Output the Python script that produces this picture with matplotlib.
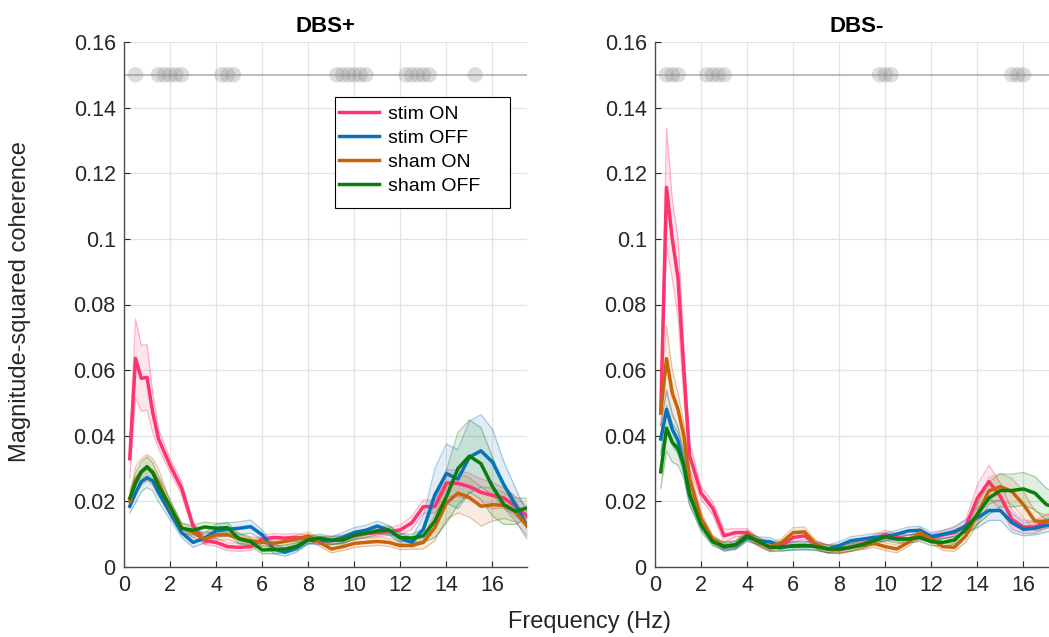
import numpy as np
import matplotlib
matplotlib.use('Agg')
import matplotlib.pyplot as plt
from matplotlib.patches import Rectangle

plt.rcParams['font.family'] = ['Liberation Sans', 'DejaVu Sans']

freqs = [0.25, 0.5, 0.75, 1.0, 1.25, 1.5, 2.0, 2.5, 3.0, 3.5, 4.0, 4.5, 5.0, 5.5, 6.0, 6.5,
         7.0, 7.5, 8.0, 8.5, 9.0, 9.5, 10.0, 10.5, 11.0, 11.5, 12.0, 12.5, 13.0, 13.5, 14.0,
         14.5, 15.0, 15.5, 16.0, 16.5, 17.0, 17.5]

conditions = ['stim ON', 'stim OFF', 'sham ON', 'sham OFF']
colors = ['#ff336e', '#0a72b8', '#c8650a', '#0b7d0b']

# DBS+ means
plus_stim_on = [0.033, 0.0636, 0.0575, 0.0578, 0.047, 0.039, 0.031, 0.024, 0.0125, 0.008, 0.0075, 0.0062,
                0.006, 0.0062, 0.0085, 0.009, 0.0088, 0.009, 0.0085, 0.0082, 0.008, 0.0085, 0.0095, 0.0102,
                0.0105, 0.0108, 0.0113, 0.0135, 0.0184, 0.0184, 0.0256, 0.0255, 0.0245, 0.0228, 0.0218,
                0.021, 0.0185, 0.0155]
plus_stim_off = [0.0185, 0.0225, 0.026, 0.0272, 0.0262, 0.0228, 0.0165, 0.0105, 0.0075, 0.0088, 0.011,
                 0.0115, 0.0118, 0.0123, 0.0098, 0.0055, 0.0045, 0.0058, 0.0082, 0.008, 0.008, 0.009,
                 0.0105, 0.0112, 0.0125, 0.0112, 0.0088, 0.0075, 0.0115, 0.022, 0.0285, 0.0268, 0.0335,
                 0.0354, 0.032, 0.025, 0.019, 0.0125]
plus_sham_on = [0.02, 0.0265, 0.029, 0.0303, 0.029, 0.0258, 0.018, 0.012, 0.0105, 0.0085, 0.0098, 0.0098,
                0.0088, 0.008, 0.0075, 0.0072, 0.0078, 0.0085, 0.0095, 0.0075, 0.0055, 0.0062, 0.0072,
                0.0075, 0.0078, 0.0075, 0.0065, 0.0066, 0.0075, 0.012, 0.0195, 0.0225, 0.0212, 0.0185,
                0.019, 0.0188, 0.0168, 0.0125]
plus_sham_off = [0.021, 0.0255, 0.029, 0.0306, 0.0287, 0.0247, 0.0185, 0.0118, 0.0112, 0.0122, 0.0118,
                 0.012, 0.0085, 0.0077, 0.0052, 0.0053, 0.0055, 0.0063, 0.0083, 0.0088, 0.0082, 0.0082,
                 0.0097, 0.0103, 0.011, 0.0113, 0.009, 0.0088, 0.0095, 0.014, 0.0214, 0.03, 0.0338,
                 0.0315, 0.0245, 0.019, 0.017, 0.018]

# DBS+ error half-widths
plus_stim_on_err = [0.006, 0.012, 0.01, 0.01, 0.006, 0.003, 0.002, 0.002, 0.0012, 0.0012, 0.0012, 0.0012,
                    0.0012, 0.0012, 0.0012, 0.0012, 0.0012, 0.0012, 0.0012, 0.0012, 0.0012, 0.0012, 0.0012,
                    0.0012, 0.0012, 0.0012, 0.0015, 0.002, 0.002, 0.002, 0.004, 0.004, 0.004, 0.004, 0.004,
                    0.003, 0.003, 0.003]
plus_stim_off_err = [0.002, 0.003, 0.003, 0.003, 0.003, 0.003, 0.002, 0.0015, 0.0015, 0.0015, 0.002, 0.002,
                     0.002, 0.002, 0.0015, 0.0015, 0.0012, 0.0012, 0.0012, 0.0012, 0.0012, 0.0015, 0.0015,
                     0.0015, 0.0015, 0.0015, 0.0015, 0.0015, 0.004, 0.008, 0.009, 0.009, 0.011, 0.011, 0.01,
                     0.007, 0.005, 0.004]
plus_sham_on_err = [0.002, 0.004, 0.004, 0.004, 0.004, 0.004, 0.002, 0.0015, 0.0015, 0.0015, 0.0015, 0.0015,
                    0.0015, 0.0012, 0.0012, 0.0012, 0.0012, 0.0012, 0.0012, 0.0012, 0.0012, 0.0012, 0.0012,
                    0.0012, 0.0012, 0.0012, 0.0012, 0.0012, 0.002, 0.004, 0.005, 0.006, 0.006, 0.006, 0.005,
                    0.004, 0.003, 0.003]
plus_sham_off_err = [0.002, 0.003, 0.003, 0.003, 0.003, 0.003, 0.002, 0.0015, 0.0015, 0.0015, 0.0015, 0.0015,
                     0.0015, 0.0012, 0.0012, 0.0012, 0.0012, 0.0012, 0.0012, 0.0012, 0.0012, 0.0012, 0.0012,
                     0.0012, 0.0012, 0.0012, 0.0012, 0.0012, 0.002, 0.005, 0.008, 0.011, 0.011, 0.011, 0.009,
                     0.006, 0.004, 0.003]

# DBS- means
minus_stim_on = [0.047, 0.1157, 0.1, 0.088, 0.06, 0.034, 0.0225, 0.018, 0.0095, 0.0105, 0.0105, 0.0075,
                 0.0058, 0.0065, 0.009, 0.0095, 0.0068, 0.0055, 0.0052, 0.006, 0.007, 0.0085, 0.0098, 0.009,
                 0.0085, 0.0095, 0.0088, 0.0098, 0.0105, 0.0125, 0.021, 0.026, 0.0215, 0.0145, 0.0122,
                 0.0122, 0.014, 0.0145]
minus_stim_off = [0.039, 0.048, 0.042, 0.0385, 0.031, 0.022, 0.0135, 0.0082, 0.006, 0.0065, 0.009, 0.008,
                  0.0077, 0.0062, 0.0063, 0.0064, 0.0064, 0.0055, 0.0065, 0.008, 0.0085, 0.009, 0.0092, 0.01,
                  0.011, 0.0112, 0.0093, 0.01, 0.0108, 0.0125, 0.015, 0.0172, 0.0172, 0.0135, 0.0115,
                  0.0118, 0.0127, 0.013]
minus_sham_on = [0.047, 0.0635, 0.053, 0.048, 0.04, 0.027, 0.0148, 0.0085, 0.0063, 0.0068, 0.0098, 0.0075,
                 0.0062, 0.0075, 0.0105, 0.0107, 0.0067, 0.0055, 0.0055, 0.006, 0.0065, 0.0072, 0.0062,
                 0.0055, 0.0075, 0.0105, 0.0085, 0.0062, 0.006, 0.0095, 0.016, 0.0232, 0.0245, 0.023, 0.019,
                 0.014, 0.0138, 0.0145]
minus_sham_off = [0.029, 0.0423, 0.038, 0.036, 0.031, 0.022, 0.0128, 0.0077, 0.0063, 0.0068, 0.0095, 0.0078,
                  0.006, 0.006, 0.0065, 0.0066, 0.0062, 0.0055, 0.0055, 0.006, 0.0068, 0.008, 0.0092, 0.0085,
                  0.0085, 0.009, 0.0077, 0.0075, 0.0082, 0.0115, 0.016, 0.021, 0.0233, 0.0233, 0.0238,
                  0.0225, 0.019, 0.018]

# DBS- error half-widths
minus_stim_on_err = [0.004, 0.018, 0.012, 0.012, 0.008, 0.004, 0.002, 0.002, 0.002, 0.0012, 0.0012, 0.0012,
                     0.0012, 0.0012, 0.0012, 0.0012, 0.0012, 0.0012, 0.0012, 0.0012, 0.0012, 0.0012, 0.0015,
                     0.0012, 0.0012, 0.0012, 0.0012, 0.0012, 0.0015, 0.002, 0.004, 0.005, 0.004, 0.003, 0.002,
                     0.002, 0.002, 0.002]
minus_stim_off_err = [0.004, 0.006, 0.005, 0.004, 0.003, 0.003, 0.002, 0.0012, 0.0012, 0.0012, 0.0012, 0.0012,
                      0.0012, 0.0012, 0.0012, 0.0012, 0.0012, 0.0012, 0.0012, 0.0012, 0.0012, 0.0012, 0.0012,
                      0.0012, 0.0012, 0.0012, 0.0012, 0.0012, 0.0015, 0.002, 0.003, 0.003, 0.003, 0.003,
                      0.002, 0.002, 0.002, 0.002]
minus_sham_on_err = [0.004, 0.01, 0.007, 0.005, 0.004, 0.003, 0.002, 0.0012, 0.0012, 0.0012, 0.0015, 0.0012,
                     0.0012, 0.0012, 0.0015, 0.0015, 0.0012, 0.0012, 0.0012, 0.0012, 0.0012, 0.0012, 0.0012,
                     0.0012, 0.0012, 0.0015, 0.0012, 0.0012, 0.0012, 0.002, 0.003, 0.004, 0.004, 0.004,
                     0.004, 0.003, 0.002, 0.002]
minus_sham_off_err = [0.005, 0.007, 0.006, 0.005, 0.004, 0.003, 0.002, 0.0012, 0.0012, 0.0012, 0.0012, 0.0012,
                      0.0012, 0.0012, 0.0012, 0.0012, 0.0012, 0.0012, 0.0012, 0.0012, 0.0012, 0.0012, 0.0012,
                      0.0012, 0.0012, 0.0012, 0.0012, 0.0012, 0.0012, 0.002, 0.003, 0.005, 0.005, 0.005,
                      0.005, 0.005, 0.005, 0.004]

# significant frequencies (gray dots at top)
plus_sig = [0.5, 1.5, 1.75, 2.0, 2.25, 2.5, 4.25, 4.5, 4.75, 9.25, 9.5, 9.75, 10.0, 10.25, 10.5,
            12.25, 12.5, 12.75, 13.0, 13.25, 15.25]
minus_sig = [0.5, 0.75, 1.0, 2.25, 2.5, 2.75, 3.0, 9.75, 10.0, 10.25, 15.5, 15.75, 16.0]
sig_level = 0.15

panels = [
    ('DBS+', [plus_stim_on, plus_stim_off, plus_sham_on, plus_sham_off],
     [plus_stim_on_err, plus_stim_off_err, plus_sham_on_err, plus_sham_off_err], plus_sig),
    ('DBS-', [minus_stim_on, minus_stim_off, minus_sham_on, minus_sham_off],
     [minus_stim_on_err, minus_stim_off_err, minus_sham_on_err, minus_sham_off_err], minus_sig),
]

fig = plt.figure(figsize=(10.49, 6.37), dpi=100)
W, H = 1049.0, 637.0
ax_left = fig.add_axes([124 / W, 70 / H, 403 / W, 525 / H])
ax_right = fig.add_axes([655 / W, 70 / H, 403 / W, 525 / H])

f = np.array(freqs)
for ax, (title, means, errs, sig) in zip([ax_left, ax_right], panels):
    ax.axhline(sig_level, color='#b0b0b0', lw=1.2, zorder=1)
    ax.scatter(sig, [sig_level] * len(sig), s=125, color='#909090', alpha=0.3,
               edgecolors='none', zorder=2)
    for m, e, c, lab in zip(means, errs, colors, conditions):
        m = np.array(m)
        e = np.array(e)
        ax.fill_between(f, m - e, m + e, color=c, alpha=0.12, lw=0, zorder=3)
        ax.plot(f, m - e, color=c, alpha=0.35, lw=0.9, zorder=3)
        ax.plot(f, m + e, color=c, alpha=0.35, lw=0.9, zorder=3)
        ax.plot(f, m, color=c, lw=2.5, label=lab, zorder=4)
    ax.set_xlim(0, 17.5)
    ax.set_ylim(0, 0.16)
    ax.set_xticks(np.arange(0, 17, 2))
    ax.set_yticks(np.arange(0, 0.161, 0.02))
    ax.set_yticklabels(['0', '0.02', '0.04', '0.06', '0.08', '0.1', '0.12', '0.14', '0.16'])
    ax.grid(True, color='#e3e3e3', lw=0.9)
    ax.set_axisbelow(True)
    for side in ['top', 'right']:
        ax.spines[side].set_visible(False)
    for side in ['left', 'bottom']:
        ax.spines[side].set_color('#4d4d4d')
        ax.spines[side].set_linewidth(1.0)
    ax.tick_params(direction='in', length=4, labelsize=15.5, colors='#262626', pad=6)
    ax.set_title(title, fontsize=16, fontweight='bold', pad=7)

fig.text(20 / W, 1 - 302 / H, 'Magnitude-squared coherence', rotation=90, ha='center', va='center',
         fontsize=17, color='#262626')
fig.text(590 / W, 1 - 622 / H, 'Frequency (Hz)', ha='center', va='center', fontsize=17, color='#262626')

# legend box drawn as a separate frame (MATLAB-style wide box)
ax_left.add_patch(Rectangle((0.5236, 0.6838), 0.434, 0.2114, transform=ax_left.transAxes,
                            facecolor='white', edgecolor='black', lw=0.8, zorder=9))
leg = ax_left.legend(loc='upper left', bbox_to_anchor=(0.534, 0.88), fontsize=14,
                     frameon=False, borderpad=0, handlelength=2.05, handletextpad=0.45,
                     labelspacing=0.33, borderaxespad=0)
leg.set_zorder(10)

fig.savefig('out.png', dpi=100)
